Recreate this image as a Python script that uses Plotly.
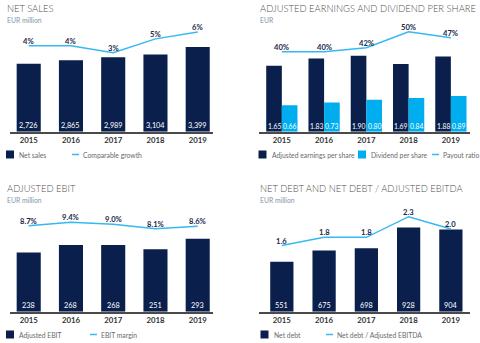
import plotly.graph_objects as go

# ---- data -------------------------------------------------------------
years = ["2015", "2016", "2017", "2018", "2019"]

net_sales = [2726, 2865, 2989, 3104, 3399]
comparable_growth = [4, 4, 3, 5, 6]

adj_eps = [1.65, 1.83, 1.90, 1.69, 1.88]
dividend_ps = [0.66, 0.73, 0.80, 0.84, 0.89]
payout_ratio = [40, 40, 42, 50, 47]

adj_ebit = [238, 268, 268, 251, 293]
ebit_margin = [8.7, 9.4, 9.0, 8.1, 8.6]

net_debt = [551, 675, 698, 928, 904]
nd_to_ebitda = [1.6, 1.8, 1.8, 2.3, 2.0]

# ---- styling ----------------------------------------------------------
W, H = 480, 343
FONT = "Lato"
NAVY = "#0b1f4d"
CYAN = "#00aeef"
LINE = "#36b9f0"
TITLE_C = "#505050"
SUB_C = "#8593a8"
LEG_C = "#6a6a6a"
VAL_C = "#1b2a4a"

xs = list(range(len(years)))


def px_x(p):
    return p / W


def px_y(p):
    return 1 - p / H


fig = go.Figure()
annotations = []
shapes = []

# panel geometry in pixels: (left, right, top, bottom)
panels = {
    1: dict(x=(9.7, 212.5), y=(25, 131.7), xr=[-0.45, 4.35]),
    2: dict(x=(258.6, 469.9), y=(25, 131.7), xr=[-0.55, 4.45]),
    3: dict(x=(9.7, 212.5), y=(205, 311.7), xr=[-0.45, 4.35]),
    4: dict(x=(258.6, 469.9), y=(205, 311.7), xr=[-0.55, 4.45]),
}
bar_ranges = {1: [0, 4285], 2: [0, 2.667], 3: [0, 428.5], 4: [0, 1175]}
line_ranges = {1: [-8.45, 7.01], 2: [0, 53.35], 3: [-8.74, 12.9], 4: [0, 2.583]}

layout_axes = {}
for k, p in panels.items():
    xn = "xaxis" if k == 1 else f"xaxis{k}"
    yn = "yaxis" if k == 1 else f"yaxis{k}"
    yl = f"yaxis{k + 4}"
    layout_axes[xn] = dict(
        domain=[px_x(p["x"][0]), px_x(p["x"][1])],
        anchor="y" if k == 1 else f"y{k}",
        range=p["xr"],
        tickvals=xs,
        ticktext=years,
        showgrid=False,
        zeroline=False,
        showline=True,
        linecolor="#4a4a4a",
        linewidth=1.5,
        ticks="",
        tickfont=dict(family=FONT, size=7.8, color="#333333", weight="bold"),
        fixedrange=True,
    )
    layout_axes[yn] = dict(
        domain=[px_y(p["y"][1]), px_y(p["y"][0])],
        anchor="x" if k == 1 else f"x{k}",
        range=bar_ranges[k],
        visible=False,
        fixedrange=True,
    )
    layout_axes[yl] = dict(
        domain=[px_y(p["y"][1]), px_y(p["y"][0])],
        anchor="x" if k == 1 else f"x{k}",
        overlaying="y" if k == 1 else f"y{k}",
        range=line_ranges[k],
        visible=False,
        fixedrange=True,
    )


def axes(k):
    xa = "x" if k == 1 else f"x{k}"
    ya = "y" if k == 1 else f"y{k}"
    return xa, ya, f"y{k + 4}"


def add_bars(k, vals, color, fmt, width, offset=None, size=7.3):
    xa, ya, _ = axes(k)
    fig.add_trace(go.Bar(
        x=xs, y=vals, xaxis=xa, yaxis=ya, width=width, offset=offset,
        marker=dict(color=color, line=dict(width=0)),
        showlegend=False, hoverinfo="skip",
    ))
    shift = 0 if offset is None else offset + width / 2
    for i, v in enumerate(vals):
        annotations.append(dict(
            x=i + shift, y=0, xref=xa, yref=ya, text=fmt(v), showarrow=False,
            yanchor="middle", yshift=6,
            font=dict(family=FONT, size=size, color="white"),
        ))


def add_line(k, vals, fmt):
    xa, _, yl = axes(k)
    fig.add_trace(go.Scatter(
        x=xs, y=vals, xaxis=xa, yaxis=yl, mode="lines",
        line=dict(color=LINE, width=1.5),
        showlegend=False, hoverinfo="skip",
    ))
    for i, v in enumerate(vals):
        annotations.append(dict(
            x=i, y=v, xref=xa, yref=yl, text=fmt(v), showarrow=False,
            yanchor="middle", yshift=5,
            font=dict(family=FONT, size=7.6, color=VAL_C, weight="bold"),
        ))


# Net sales
add_bars(1, net_sales, NAVY, lambda v: f"{v:,}", 0.57)
add_line(1, comparable_growth, lambda v: f"{v}%")

# Adjusted EPS and dividend
add_bars(2, adj_eps, NAVY, lambda v: f"{v:.2f}", 0.37, offset=-0.37, size=6.8)
add_bars(2, dividend_ps, CYAN, lambda v: f"{v:.2f}", 0.37, offset=0.0, size=6.8)
add_line(2, payout_ratio, lambda v: f"{v}%")

# Adjusted EBIT
add_bars(3, adj_ebit, NAVY, lambda v: f"{v}", 0.57)
add_line(3, ebit_margin, lambda v: f"{v:.1f}%")

# Net debt
add_bars(4, net_debt, NAVY, lambda v: f"{v}", 0.55)
add_line(4, nd_to_ebitda, lambda v: f"{v:.1f}")

# ---- titles -----------------------------------------------------------
titles = [
    (5, 8.5, 19.5, "NET SALES", "EUR million"),
    (258, 8.5, 19.5, "ADJUSTED EARNINGS AND DIVIDEND PER SHARE", "EUR"),
    (5, 189, 199.5, "ADJUSTED EBIT", "EUR million"),
    (258, 189, 199.5, "NET DEBT AND NET DEBT / ADJUSTED EBITDA", "EUR million"),
]
for x0, yt, ys, t, s in titles:
    annotations.append(dict(
        x=px_x(x0), y=px_y(yt), xref="paper", yref="paper", text=t,
        showarrow=False, xanchor="left", yanchor="middle",
        font=dict(family=FONT, size=9.4, color=TITLE_C, weight=300),
    ))
    annotations.append(dict(
        x=px_x(x0), y=px_y(ys), xref="paper", yref="paper", text=s,
        showarrow=False, xanchor="left", yanchor="middle",
        font=dict(family=FONT, size=6.8, color=SUB_C),
    ))

# ---- legends ----------------------------------------------------------
LEG_SIZE = 6.8


def leg_box(x0, yc, color, label):
    shapes.append(dict(
        type="rect", xref="paper", yref="paper",
        x0=px_x(x0), x1=px_x(x0 + 8), y0=px_y(yc + 4), y1=px_y(yc - 4),
        fillcolor=color, line=dict(width=0),
    ))
    annotations.append(dict(
        x=px_x(x0 + 11), y=px_y(yc), xref="paper", yref="paper", text=label,
        showarrow=False, xanchor="left", yanchor="middle",
        font=dict(family=FONT, size=LEG_SIZE, color=LEG_C),
    ))


def leg_line(x0, yc, label):
    shapes.append(dict(
        type="line", xref="paper", yref="paper",
        x0=px_x(x0), x1=px_x(x0 + 7), y0=px_y(yc), y1=px_y(yc),
        line=dict(color=LINE, width=1.5),
    ))
    annotations.append(dict(
        x=px_x(x0 + 9), y=px_y(yc), xref="paper", yref="paper", text=label,
        showarrow=False, xanchor="left", yanchor="middle",
        font=dict(family=FONT, size=LEG_SIZE, color=LEG_C),
    ))


leg_box(6, 154.5, NAVY, "Net sales")
leg_line(72, 154.5, "Comparable growth")
leg_box(258.5, 154.5, NAVY, "Adjusted earnings per share")
leg_box(358, 154.5, CYAN, "Dividend per share")
leg_line(432, 154.5, "Payout ratio")
leg_box(6, 334.5, NAVY, "Adjusted EBIT")
leg_line(90, 334.5, "EBIT margin")
leg_box(260.5, 334.5, NAVY, "Net debt")
leg_line(326, 334.5, "Net debt / Adjusted EBITDA")

fig.update_layout(
    width=W, height=H,
    margin=dict(l=0, r=0, t=0, b=0),
    paper_bgcolor="white", plot_bgcolor="white",
    barmode="overlay",
    showlegend=False,
    annotations=annotations,
    shapes=shapes,
    font=dict(family=FONT),
    **layout_axes,
)

fig.write_html("out.html", config={"displayModeBar": False})
